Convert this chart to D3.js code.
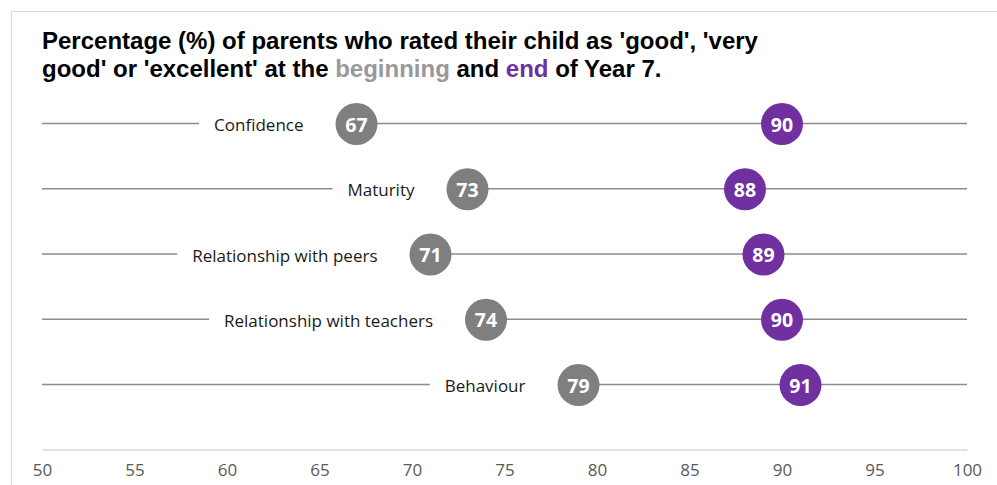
<!DOCTYPE html>
<html>
<head>
<meta charset="utf-8">
<script src="https://cdn.jsdelivr.net/npm/d3@7"></script>
<style>
  html, body { margin: 0; padding: 0; background: #fff; }
  svg { display: block; }
</style>
</head>
<body>
<svg id="chart" width="997" height="485"></svg>
<script>
// Survey items and the share of parents rating each one positively
const categories = ["Confidence", "Maturity", "Relationship with peers", "Relationship with teachers", "Behaviour"];
const beginningValues = [67, 73, 71, 74, 79];
const endValues = [90, 88, 89, 90, 91];
const xTicks = [50, 55, 60, 65, 70, 75, 80, 85, 90, 95, 100];

const GREY = "#7f7f7f";
const PURPLE = "#7030a0";
const R = 21;
const LABEL_GAP = 32;

const svg = d3.select("#chart");

// light outer frame
svg.append("rect")
  .attr("x", 11.5).attr("y", 11.5)
  .attr("width", 1000).attr("height", 500)
  .attr("fill", "#fff").attr("stroke", "#d9d9d9").attr("stroke-width", 1);

// title with coloured keywords
const title = svg.append("text")
  .attr("x", 42).attr("y", 49)
  .attr("font-family", "Liberation Sans, Arial, sans-serif")
  .attr("font-weight", "bold").attr("font-size", 24).attr("fill", "#000");
title.append("tspan").text("Percentage (%) of parents who rated their child as 'good', 'very");
const t2 = title.append("tspan").attr("x", 42).attr("dy", 28);
t2.append("tspan").text("good' or 'excellent' at the ");
t2.append("tspan").attr("fill", "#999999").text("beginning");
t2.append("tspan").text(" and ");
t2.append("tspan").attr("fill", PURPLE).text("end");
t2.append("tspan").text(" of Year 7.");

const x = d3.scaleLinear().domain([50, 100]).range([42, 967]);
const y = d3.scalePoint().domain(categories).range([123.5, 384.5]);
const axisY = 449.5;

// bottom axis
const axis = svg.append("g").attr("transform", `translate(0,${axisY})`)
  .call(d3.axisBottom(x).tickValues(xTicks).tickSize(0).tickPadding(14).tickFormat(d3.format("d")));
axis.select(".domain").attr("stroke", "#d9d9d9").attr("stroke-width", 1.3);
axis.selectAll("text")
  .attr("font-family", "Open Sans, sans-serif").attr("font-size", 17).attr("fill", "#595959");

const rows = categories.map((c, i) => ({ cat: c, b: beginningValues[i], e: endValues[i] }));

// full-width guide line for each row
svg.append("g").selectAll("line").data(rows).join("line")
  .attr("x1", x(50)).attr("x2", x(100))
  .attr("y1", d => y(d.cat)).attr("y2", d => y(d.cat))
  .attr("stroke", "#8c8c8c").attr("stroke-width", 1.3);

// category labels sit on a white patch just left of the first marker
const labels = svg.append("g").selectAll("g").data(rows).join("g");
labels.each(function (d) {
  const g = d3.select(this);
  const endX = x(d.b) - R - LABEL_GAP;
  const txt = g.append("text")
    .attr("x", endX).attr("y", y(d.cat) + 1)
    .attr("text-anchor", "end").attr("dominant-baseline", "central")
    .attr("font-family", "Open Sans, sans-serif").attr("font-size", 17).attr("fill", "#1a1a1a")
    .text(d.cat);
  const w = txt.node().getComputedTextLength();
  g.insert("rect", "text")
    .attr("x", endX - w - 15).attr("y", y(d.cat) - 12)
    .attr("width", w + 15 + LABEL_GAP + R - 4).attr("height", 24)
    .attr("fill", "#fff");
});

// markers with value labels
function markers(key, color) {
  const g = svg.append("g").selectAll("g").data(rows).join("g")
    .attr("transform", d => `translate(${x(d[key])},${y(d.cat) + 0.5})`);
  g.append("circle").attr("r", R).attr("fill", color);
  g.append("text")
    .attr("text-anchor", "middle").attr("dominant-baseline", "central")
    .attr("font-family", "Open Sans, sans-serif").attr("font-weight", "bold")
    .attr("font-size", 19.5).attr("fill", "#fff")
    .text(d => d[key]);
}
markers("b", GREY);
markers("e", PURPLE);
</script>
</body>
</html>
